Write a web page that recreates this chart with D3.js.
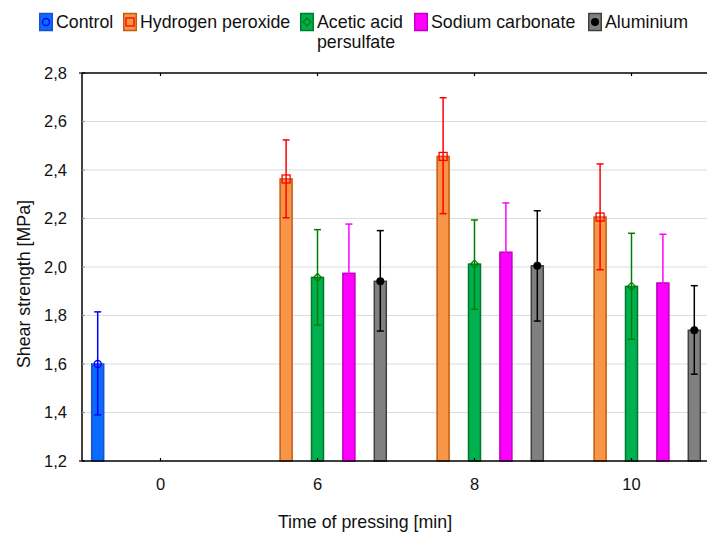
<!DOCTYPE html>
<html><head><meta charset="utf-8">
<script src="https://cdn.jsdelivr.net/npm/d3@7"></script>
<style>body{margin:0;background:#fff}svg{display:block;font-family:"Liberation Sans",Arial,sans-serif}</style>
</head><body><svg id="c" width="707" height="533"></svg>
<script>
const categories = ["0","6","8","10"];
const seriesNames = ["Control","Hydrogen peroxide","Acetic acid persulfate","Sodium carbonate","Aluminium"];
const controlMean = [1.60, null, null, null];
const controlLow  = [1.39, null, null, null];
const controlHigh = [1.815, null, null, null];
const h2o2Mean = [null, 2.363, 2.456, 2.206];
const h2o2Low  = [null, 2.203, 2.220, 1.989];
const h2o2High = [null, 2.524, 2.698, 2.425];
const aceticMean = [null, 1.957, 2.012, 1.920];
const aceticLow  = [null, 1.761, 1.826, 1.702];
const aceticHigh = [null, 2.154, 2.194, 2.139];
const sodiumMean = [null, 1.974, 2.061, 1.934];
const sodiumLow  = [null, 1.771, 1.858, 1.733];
const sodiumHigh = [null, 2.177, 2.264, 2.135];
const aluMean = [null, 1.941, 2.005, 1.739];
const aluLow  = [null, 1.736, 1.777, 1.558];
const aluHigh = [null, 2.150, 2.232, 1.923];
const yTicks = [1.2,1.4,1.6,1.8,2.0,2.2,2.4,2.6,2.8];

const styles = [
  {fill:"#0a6cff", stroke:"#1f4fc8", err:"#0000ff", marker:"circle"},
  {fill:"#f79646", stroke:"#c55a11", err:"#ff0000", marker:"square"},
  {fill:"#00b050", stroke:"#007a2a", err:"#008000", marker:"diamond"},
  {fill:"#ff00ff", stroke:"#c000c0", err:"#ff00ff", marker:"none"},
  {fill:"#808080", stroke:"#404040", err:"#000000", marker:"dot"}
];
const seriesData = [
  [controlMean, controlLow, controlHigh],
  [h2o2Mean, h2o2Low, h2o2High],
  [aceticMean, aceticLow, aceticHigh],
  [sodiumMean, sodiumLow, sodiumHigh],
  [aluMean, aluLow, aluHigh]
];

const svg = d3.select("#c");
const L = 82, R = 710, T = 73, B = 461;
const x0 = d3.scaleBand().domain(categories).range([L, R]).padding(0);
const x1 = d3.scalePoint().domain(d3.range(5)).range([0, x0.bandwidth()]).padding(0.5);
const y = d3.scaleLinear().domain([1.2, 2.8]).range([B, T]);
const barW = 13.5;
const fmt = d => d3.format(".1f")(d).replace(".", ",");
const FS = 17.8, TFS = 16.5;

// gridlines
svg.append("g").selectAll("line").data(yTicks.filter(t => t > 1.2 && t < 2.8)).join("line")
  .attr("x1", L).attr("x2", 707).attr("y1", d => y(d)).attr("y2", d => y(d))
  .attr("stroke", "#dcdcdc").attr("stroke-width", 1.2);

// bars
seriesData.forEach((sd, si) => {
  const st = styles[si];
  const g = svg.append("g");
  const pts = categories.map((c, i) => ({c, m: sd[0][i], lo: sd[1][i], hi: sd[2][i]})).filter(d => d.m != null);
  const cx = d => x0(d.c) + x1(si);
  g.selectAll("rect").data(pts).join("rect")
    .attr("x", d => cx(d) - barW/2 + 0.75).attr("width", barW - 1.5)
    .attr("y", d => y(d.m)).attr("height", d => B - y(d.m))
    .attr("fill", st.fill).attr("stroke", st.stroke).attr("stroke-width", 1.5);
  g.selectAll("line.v").data(pts).join("line").attr("class","v")
    .attr("x1", cx).attr("x2", cx).attr("y1", d => y(d.lo)).attr("y2", d => y(d.hi))
    .attr("stroke", st.err).attr("stroke-width", 1.5);
  ["lo","hi"].forEach(k => {
    g.selectAll("line."+k).data(pts).join("line").attr("class", k)
      .attr("x1", d => cx(d) - 3.5).attr("x2", d => cx(d) + 3.5)
      .attr("y1", d => y(d[k])).attr("y2", d => y(d[k]))
      .attr("stroke", st.err).attr("stroke-width", 1.5);
  });
  pts.forEach(d => drawMarker(g, st, cx(d), y(d.m), 1));
});

function drawMarker(g, st, px, py, s) {
  if (st.marker === "circle") g.append("circle").attr("cx", px).attr("cy", py).attr("r", 3.5*s).attr("fill","none").attr("stroke", st.err).attr("stroke-width",1.3);
  else if (st.marker === "square") g.append("rect").attr("x", px-4*s).attr("y", py-4*s).attr("width", 8*s).attr("height", 8*s).attr("fill","none").attr("stroke", st.err).attr("stroke-width",1.3);
  else if (st.marker === "diamond") g.append("path").attr("d", `M${px},${py-4*s}L${px+4*s},${py}L${px},${py+4*s}L${px-4*s},${py}Z`).attr("fill","none").attr("stroke", st.err).attr("stroke-width",1.3);
  else if (st.marker === "dot") g.append("circle").attr("cx", px).attr("cy", py).attr("r", 4*s).attr("fill", st.err);
}

// frame lines
svg.append("line").attr("x1", L).attr("x2", 707).attr("y1", T).attr("y2", T).attr("stroke","#000").attr("stroke-width",1.5);
svg.append("line").attr("x1", L).attr("x2", 707).attr("y1", B).attr("y2", B).attr("stroke","#000").attr("stroke-width",1.5);
svg.append("line").attr("x1", L).attr("x2", L).attr("y1", T).attr("y2", B).attr("stroke","#000").attr("stroke-width",1.5);

// y axis ticks & labels
svg.append("g").selectAll("line").data(yTicks).join("line")
  .attr("x1", d => (d === 1.2 || d === 2.8) ? L - 3 : L).attr("x2", L + 3)
  .attr("y1", d => y(d)).attr("y2", d => y(d)).attr("stroke", d => (d === 1.2 || d === 2.8) ? "#000" : "#999").attr("stroke-width", 1.2);
svg.append("g").selectAll("text").data(yTicks).join("text")
  .attr("x", 67).attr("y", d => y(d)).attr("dy", "0.36em").attr("text-anchor", "end")
  .attr("font-size", TFS).attr("fill", "#111").text(fmt);

// x ticks & labels
svg.append("g").selectAll("line").data(categories).join("line")
  .attr("x1", d => x0(d) + x0.bandwidth()/2).attr("x2", d => x0(d) + x0.bandwidth()/2)
  .attr("y1", B).attr("y2", B - 3).attr("stroke", "#000").attr("stroke-width", 1.2);
svg.append("g").selectAll("line").data(categories).join("line")
  .attr("x1", d => x0(d) + x0.bandwidth()/2).attr("x2", d => x0(d) + x0.bandwidth()/2)
  .attr("y1", T).attr("y2", T + 3).attr("stroke", "#000").attr("stroke-width", 1.2);
svg.append("g").selectAll("text").data(categories).join("text")
  .attr("x", d => x0(d) + x0.bandwidth()/2).attr("y", 490).attr("text-anchor", "middle")
  .attr("font-size", TFS).attr("fill", "#111").text(d => d);

// axis titles
svg.append("text").attr("x", 365).attr("y", 528).attr("text-anchor", "middle").attr("font-size", FS).attr("fill", "#111").text("Time of pressing [min]");
svg.append("text").attr("transform", "translate(30,284) rotate(-90)").attr("text-anchor", "middle").attr("font-size", FS).attr("fill", "#111").text("Shear strength [MPa]");

// legend
const legendX = [39, 123, 300, 414, 588];
const lg = svg.append("g");
seriesNames.forEach((name, i) => {
  const st = styles[i];
  const bx = legendX[i];
  lg.append("rect").attr("x", bx + 0.75).attr("y", 13.5).attr("width", 12.5).attr("height", 17).attr("fill", st.fill).attr("stroke", st.stroke).attr("stroke-width", 1.5);
  drawMarker(lg, st, bx + 7, 22, 1);
  const t = lg.append("text").attr("x", bx + 17).attr("y", 28).attr("font-size", FS).attr("fill", "#111");
  if (name === "Acetic acid persulfate") {
    t.text("Acetic acid");
    lg.append("text").attr("x", 356).attr("y", 48).attr("text-anchor","middle").attr("font-size", FS).attr("fill", "#111").text("persulfate");
  } else t.text(name);
});
</script></body></html>
